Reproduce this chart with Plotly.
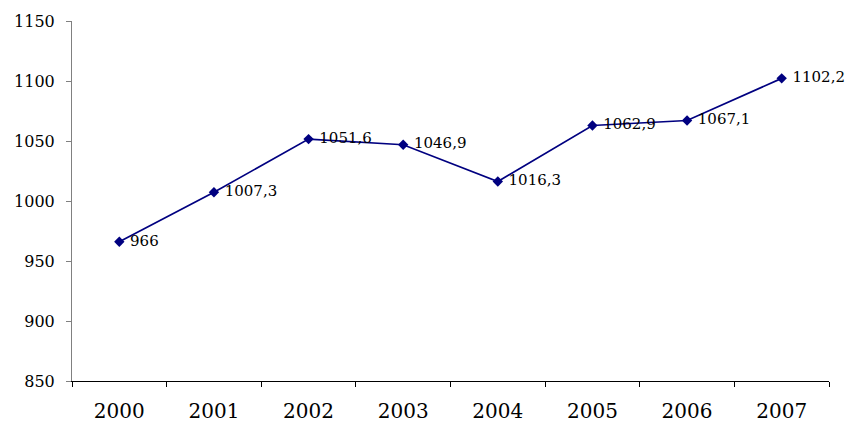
import plotly.graph_objects as go

years = ["2000", "2001", "2002", "2003", "2004", "2005", "2006", "2007"]
values = [966, 1007.3, 1051.6, 1046.9, 1016.3, 1062.9, 1067.1, 1102.2]
labels = [" " + f"{v:g}".replace(".", ",") for v in values]
y_ticks = [850, 900, 950, 1000, 1050, 1100, 1150]

SERIF = "DejaVu Serif"

fig = go.Figure(go.Scatter(
    x=years, y=values, mode="lines+markers+text",
    text=labels, textposition="middle right",
    textfont=dict(family=SERIF, size=15, color="black"),
    line=dict(color="#000080", width=1.7),
    marker=dict(symbol="diamond", size=8, color="#000080"),
    cliponaxis=False,
))

fig.update_layout(
    width=850, height=426,
    margin=dict(l=72, r=21, t=21, b=45),
    paper_bgcolor="white", plot_bgcolor="white",
    showlegend=False,
    font=dict(family=SERIF, color="black"),
)
fig.update_xaxes(
    type="category", tickson="boundaries", ticks="outside", ticklen=5,
    tickcolor="black", showline=True, linecolor="black", linewidth=1,
    showgrid=False, tickfont=dict(family=SERIF, size=20), range=[-0.5, 7.5],
    ticklabelstandoff=12, automargin=False,
)
fig.update_yaxes(
    range=[850, 1150], tickvals=y_ticks, ticks="outside", ticklen=5,
    tickcolor="#808080", showline=True, linecolor="#808080", linewidth=1,
    showgrid=False, zeroline=False, tickfont=dict(family=SERIF, size=16),
    ticklabelstandoff=8, automargin=False,
)

fig.write_html("out.html")
